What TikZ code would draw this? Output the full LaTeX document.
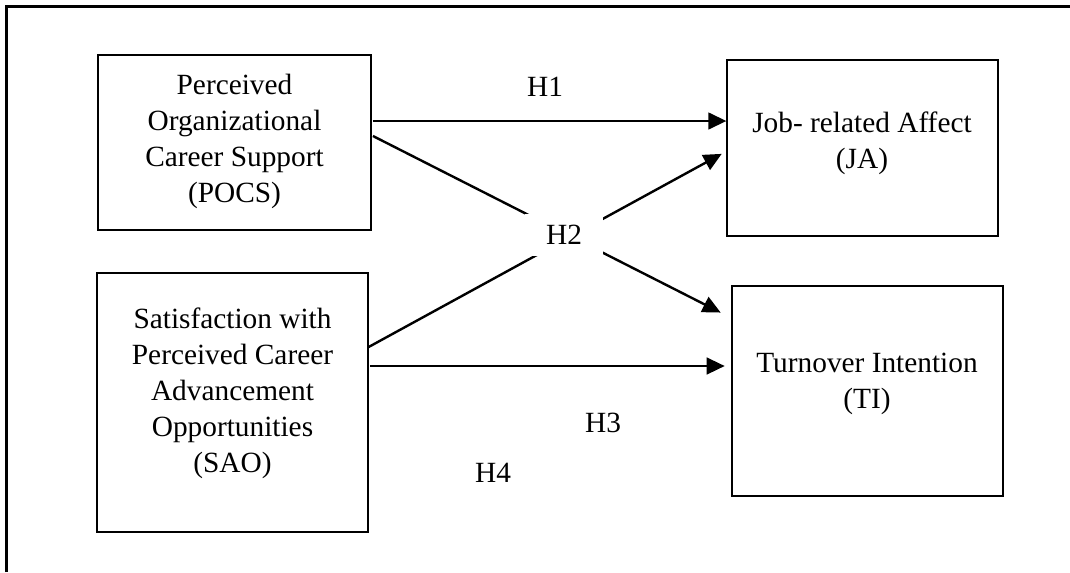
\documentclass[tikz,border=0pt]{standalone}
\usepackage{fontspec}
\setmainfont{Liberation Serif}
\usetikzlibrary{arrows.meta}
\tikzset{
  box/.style={draw=black, line width=0.95pt, rectangle, inner sep=0pt},
  txt/.style={align=center, inner sep=0pt, font=\fontsize{22pt}{27pt}\selectfont},
  lbl/.style={inner sep=0pt, font=\fontsize{22pt}{27pt}\selectfont},
  conn/.style={line width=1.8pt, -{Triangle[length=13.5pt,width=12.5pt]}},
}
\begin{document}
\begin{tikzpicture}[x=0.75pt, y=-0.75pt]
\useasboundingbox (0,0) rectangle (1070,572);
% outer frame (top and left only)
\draw[line width=1.9pt] (6.7,572) -- (6.7,6.7) -- (1070,6.7);
% boxes
\node[box, minimum width=204.75pt, minimum height=131.25pt] (pocs) at (234.5,142.5) {};
\node[box, minimum width=203.25pt, minimum height=132pt] (ja) at (862.5,148) {};
\node[box, minimum width=203.25pt, minimum height=194.25pt] (sao) at (232.5,402.5) {};
\node[box, minimum width=203.25pt, minimum height=157.5pt] (ti) at (867.5,391) {};
% texts
\node[txt] (pocsT) at (234.5,141) {Perceived\\Organizational\\Career Support\\(POCS)};
\node[txt] (jaT) at (862,143) {Job- related Affect\\(JA)};
\node[txt] (saoT) at (232.5,393) {Satisfaction with\\Perceived Career\\Advancement\\Opportunities\\(SAO)};
\node[txt] (tiT) at (867,383.5) {Turnover Intention\\(TI)};
% connectors
\draw[conn] ([xshift=1pt]pocs.east |- 0,121) -- (ja.west |- 0,121);
\draw[conn, shorten >=9pt] ([xshift=1pt]pocs.east |- 0,136) -- (ti.west |- 0,318);
\draw[conn, shorten >=4pt] (sao.east |- 0,347) -- (ja.west |- 0,151.3);
\draw[conn, shorten >=5pt] ([xshift=1pt]sao.east |- 0,366) -- (ti.west |- 0,366);
% labels
\node[lbl, fill=white, minimum width=58pt, minimum height=31pt] (h2) at (564,235) {H2};
\node[lbl] (h1) at (545,87) {H1};
\node[lbl] (h3) at (603,423) {H3};
\node[lbl] (h4) at (493,473) {H4};
\end{tikzpicture}
\end{document}
